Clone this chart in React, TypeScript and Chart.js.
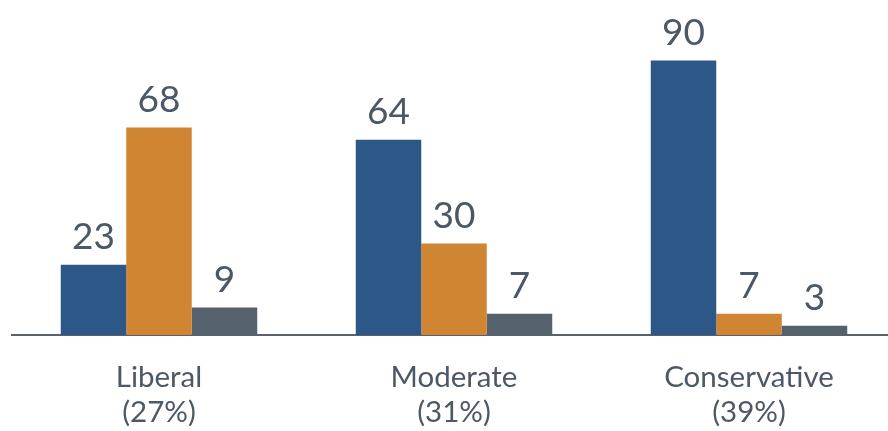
import React, { useEffect, useRef } from "react";
import { Chart, registerables } from "chart.js";

Chart.register(...registerables);

const categories: string[][] = [
  ["Liberal", "(27%)"],
  ["Moderate", "(31%)"],
  ["Conservative", "(39%)"],
];
const seriesA: number[] = [23, 64, 90];
const seriesB: number[] = [68, 30, 7];
const seriesC: number[] = [9, 7, 3];

const COLORS = ["#2D5787", "#CF8531", "#55616D"];
const TEXT = "#4D5866";

const valueLabels = {
  id: "valueLabels",
  afterDatasetsDraw(chart: any) {
    const ctx = chart.ctx;
    ctx.save();
    ctx.font = "37px Lato";
    ctx.fillStyle = TEXT;
    ctx.textAlign = "center";
    ctx.textBaseline = "alphabetic";
    chart.data.datasets.forEach((ds: any, i: number) => {
      const meta = chart.getDatasetMeta(i);
      meta.data.forEach((el: any, j: number) => {
        ctx.fillText(String(ds.data[j]), el.x, el.y - 16);
      });
    });
    ctx.restore();
  },
};

export default function App() {
  const ref = useRef<HTMLCanvasElement>(null);
  useEffect(() => {
    if (!ref.current) return;
    const chart = new Chart(ref.current, {
      type: "bar",
      data: {
        labels: categories,
        datasets: [
          { data: seriesA, backgroundColor: COLORS[0] },
          { data: seriesB, backgroundColor: COLORS[1] },
          { data: seriesC, backgroundColor: COLORS[2] },
        ],
      },
      options: {
        responsive: false,
        animation: false,
        devicePixelRatio: 1,
        layout: { padding: { left: 11.5, right: 3.5, top: 30, bottom: 0 } },
        datasets: { bar: { categoryPercentage: 0.666, barPercentage: 1.0 } },
        plugins: { legend: { display: false }, tooltip: { enabled: false } },
        scales: {
          y: { display: false, min: 0, max: 100 },
          x: {
            grid: { display: false, drawTicks: false },
            border: { display: true, color: "#56626E", width: 2 },
            ticks: {
              color: TEXT,
              font: { family: "Lato", size: 29.5, lineHeight: "35px" },
              padding: 25,
              maxRotation: 0,
            },
          },
        },
      },
      plugins: [valueLabels],
    });
    return () => chart.destroy();
  }, []);
  return (
    <div
      style={{
        position: "fixed",
        left: 0,
        top: 0,
        width: 888,
        height: 431,
        overflow: "hidden",
        background: "#ffffff",
      }}
    >
      <canvas ref={ref} width={900} height={455} style={{ display: "block" }} />
    </div>
  );
}
